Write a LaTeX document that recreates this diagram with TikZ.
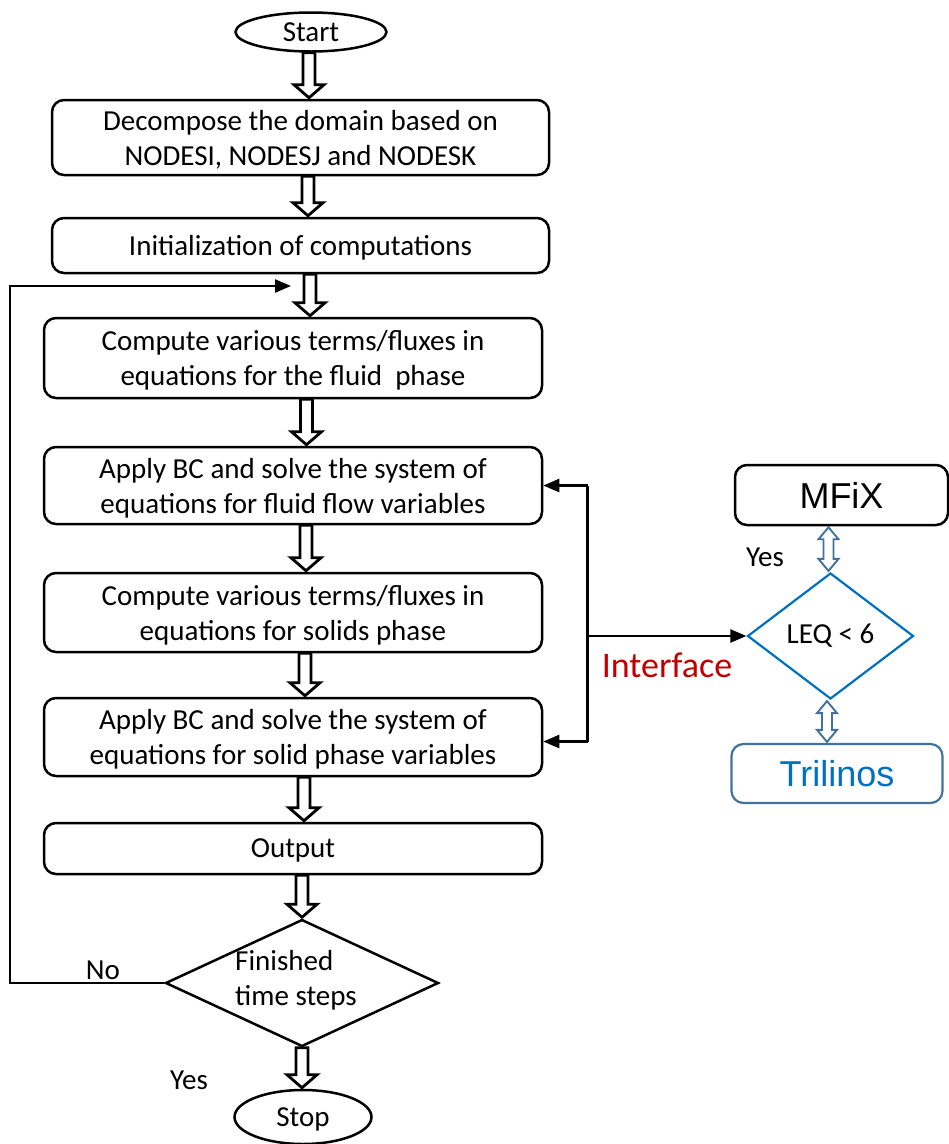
\documentclass[tikz,border=0pt]{standalone}
\usepackage{fontspec}
\setmainfont{Carlito}
\newfontfamily\arialfont{Liberation Sans}
\usetikzlibrary{shapes.geometric,arrows.meta,calc}

\definecolor{darkred}{HTML}{C00000}
\definecolor{accentblue}{HTML}{0070C0}
\definecolor{slateblue}{HTML}{41719C}

\tikzset{
  stepbox/.style={draw, line width=2.5pt, rounded corners=12pt, align=center,
    minimum width=498pt, inner sep=0pt, text depth=0pt,
    font=\fontsize{29}{35}\selectfont},
  terminal/.style={draw, ellipse, line width=2.5pt, inner sep=0pt, text depth=0pt,
    font=\fontsize{29}{35}\selectfont},
  decision/.style={draw, diamond, line width=2.5pt, inner sep=0pt},
  lbl/.style={font=\fontsize{29}{35}\selectfont, inner sep=0pt},
  conn/.style={line width=2.4pt, -{Triangle[length=16pt,width=13pt]}},
  fat/.style={draw, line width=2.8pt, fill=white, line join=miter},
  dbl/.style={draw=slateblue, line width=1.9pt, fill=white, line join=miter},
}

% hollow block arrow pointing down, at a given x, between two nodes
\newcommand\fatarrow[3]{%
  \draw[fat] let \p1=(#2.south), \p2=(#3.north), \p3=(#1,0) in
    (\x3-6pt,\y1) -- (\x3-6pt,\y2+14pt) -- (\x3-15pt,\y2+14pt) --
    (\x3,\y2+1pt) -- (\x3+15pt,\y2+14pt) -- (\x3+6pt,\y2+14pt) --
    (\x3+6pt,\y1) -- cycle;}

% hollow two-headed block arrow between an upper and a lower node
\newcommand\dblarrow[3]{%
  \draw[dbl] let \p1=(#2.south), \p2=(#3.north), \p3=(#1,0) in
    (\x3,\y1-1pt) -- (\x3+10pt,\y1-13pt) -- (\x3+5pt,\y1-13pt) --
    (\x3+5pt,\y2+13pt) -- (\x3+10pt,\y2+13pt) -- (\x3,\y2+1pt) --
    (\x3-10pt,\y2+13pt) -- (\x3-5pt,\y2+13pt) -- (\x3-5pt,\y1-13pt) --
    (\x3-10pt,\y1-13pt) -- cycle;}

\begin{document}
\begin{tikzpicture}[x=1pt,y=-1pt]
\useasboundingbox (0,0) rectangle (949,1144);

% main flow
\node[terminal, minimum width=151pt, minimum height=39pt] (start) at (311,32) {Start};
\node[stepbox, minimum width=497pt, minimum height=75pt] (b1) at (300.5,137.5)
  {Decompose the domain based on\\NODESI, NODESJ and NODESK};
\node[stepbox, minimum width=497pt, minimum height=55pt] (b2) at (300.5,245.5)
  {Initialization of computations};
\node[stepbox, minimum height=80pt] (b3) at (293,358)
  {Compute various terms/fluxes in\\equations for the fluid~~phase};
\node[stepbox, minimum height=77pt] (b4) at (293,485.5)
  {Apply BC and solve the system of\\equations for fluid flow variables};
\node[stepbox, minimum height=79pt] (b5) at (293,612.5)
  {Compute various terms/fluxes in\\equations for solids phase};
\node[stepbox, minimum height=78pt] (b6) at (293,737)
  {Apply BC and solve the system of\\equations for solid phase variables};
\node[stepbox, minimum height=51pt] (b7) at (293,848.5) {Output};
\node[decision, minimum width=273pt, minimum height=127pt] (fin) at (302,983) {};
\node[lbl, align=left] (fintxt) at (296,980) {Finished\\time steps};
\node[terminal, minimum width=137pt, minimum height=54pt] (stop) at (303,1117) {Stop};

\fatarrow{309}{start}{b1}
\fatarrow{308}{b1}{b2}
\fatarrow{310}{b2}{b3}
\fatarrow{306.5}{b3}{b4}
\fatarrow{306}{b4}{b5}
\fatarrow{305}{b5}{b6}
\fatarrow{304}{b6}{b7}
\fatarrow{302}{b7}{fin}
\fatarrow{302}{fin}{stop}

% loop back when time steps are not finished
\coordinate (loopcorner) at (10,286);
\coordinate (loopin) at (291,286);
\draw[conn] (fin.west) -| (loopcorner) -- (loopin);
\node[lbl] (no) at (103,970) {No};
\node[lbl] (yes1) at (189,1080) {Yes};

% linear solver interface
\node[draw, line width=2.5pt, rounded corners=12pt, minimum width=213pt,
  minimum height=60pt, inner sep=0pt, font=\arialfont\fontsize{36}{40}\selectfont]
  (mfix) at (841.5,495) {MFiX};
\node[draw=accentblue, diamond, line width=2.2pt, minimum width=166pt,
  minimum height=126pt, inner sep=0pt, font=\fontsize{29}{35}\selectfont]
  (leq) at (830.5,636) {LEQ < 6};
\node[draw=slateblue, line width=2.2pt, rounded corners=12pt, minimum width=211pt,
  minimum height=59pt, inner sep=0pt, text=accentblue,
  font=\arialfont\fontsize{36}{40}\selectfont]
  (tril) at (837,773.5) {Trilinos};
\node[lbl] (yes2) at (765,557) {Yes};

\dblarrow{828.5}{mfix}{leq}
\dblarrow{827}{leq}{tril}

\coordinate (bus) at (587.5,0);
\coordinate (b6in) at ($(b6.east)+(0,4.5)$);
\draw[line width=2.4pt] (bus |- b4.east) -- (bus |- b6in);
\draw[conn] (bus |- b4.east) -- (b4.east);
\draw[conn] (bus |- b6in) -- (b6in);
\draw[conn] (bus |- leq.west) -- (leq.west);
\node[inner sep=0pt, text=darkred, font=\fontsize{36}{40}\selectfont]
  (iface) at (667,665) {Interface};

\end{tikzpicture}
\end{document}
